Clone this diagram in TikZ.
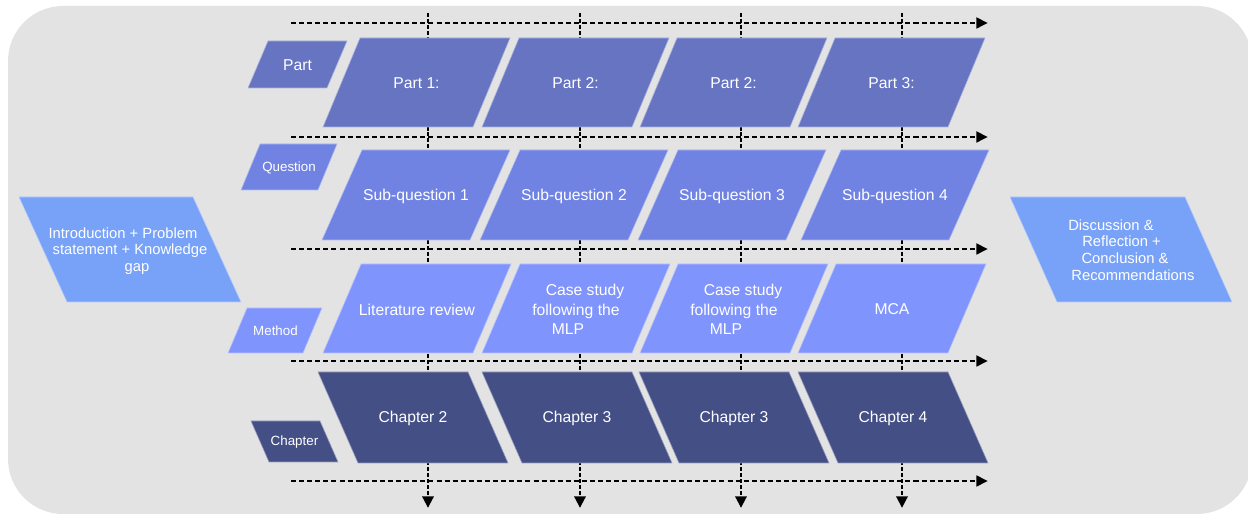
\documentclass[tikz,border=0pt]{standalone}
\usepackage{fontspec}
\setmainfont{Liberation Sans}
\usetikzlibrary{arrows.meta}
\definecolor{partblue}{HTML}{6674C2}
\definecolor{questblue}{HTML}{7083E2}
\definecolor{methblue}{HTML}{8094FE}
\definecolor{chapblue}{HTML}{444F86}
\definecolor{sideblue}{HTML}{78A2F8}
\definecolor{panelgray}{HTML}{E3E3E3}

\begin{document}
\begin{tikzpicture}[x=0.03cm, y=-0.03cm,
        flow/.style={line width=2.5pt, dash pattern=on 4.3pt off 2.6pt, -{Triangle[length=10pt,width=9pt]}},
        drop/.style={line width=2.5pt, dash pattern=on 3.4pt off 1.7pt, -{Triangle[length=10pt,width=9.5pt]}},
        rim/.style={fill=#1, draw=#1!55!white, line width=0.5pt},
        txt/.style={text=white, font=\fontsize{13.4}{16.6}\selectfont, align=center, inner sep=0pt},
        tag/.style={text=white, font=\fontsize{11.4}{13}\selectfont, inner sep=0pt},
        side/.style={text=white, font=\fontsize{12.6}{14.2}\selectfont, align=center, inner sep=0pt}]
        \useasboundingbox (0,0) rectangle (1248,514);
        \fill[panelgray, rounded corners=47pt] (8,6) rectangle (1252,514);

        \foreach \y [count=\i] in {23,137,249,361,481} {
                \coordinate (w\i) at (291,\y);
                \coordinate (e\i) at (988,\y);
                \draw[flow] (w\i) -- (e\i);
        }
        \foreach \x [count=\i] in {428,580,741,902} {
                \coordinate (t\i) at (\x,13);
                \coordinate (b\i) at (\x,508);
                \draw[drop] (t\i) -- (b\i);
        }

        \foreach \x/\t [count=\i] in {323/Part 1:, 482/Part 2:, 640/Part 2:, 798/Part 3:} {
                \path[rim=partblue] (\x,127) -- ++(150,0) -- ++(37,-89) -- ++(-150,0) -- cycle;
                \node[txt] (part\i) at (\x+93.5,83.5) {\t};
        }
        \foreach \x/\t [count=\i] in {322/Sub-question 1, 480/Sub-question 2, 638/Sub-question 3, 801/Sub-question 4} {
                \path[rim=questblue] (\x,240) -- ++(148,0) -- ++(40,-90) -- ++(-148,0) -- cycle;
                \node[txt] (subq\i) at (\x+94,196.5) {\t};
        }
        \foreach \x/\t [count=\i] in {323/Literature review,
                482/{\hspace*{15.4pt}Case study\\following the\\MLP\hspace*{13.7pt}},
                640/{\hspace*{15.4pt}Case study\\following the\\MLP\hspace*{13.7pt}},
                798/MCA} {
                \path[rim=methblue] (\x,353) -- ++(150,0) -- ++(38,-89) -- ++(-150,0) -- cycle;
                \node[txt] (meth\i) at (\x+94,309.5) {\t};
        }
        \foreach \x/\t [count=\i] in {318/Chapter 2, 482/Chapter 3, 639/Chapter 3, 798/Chapter 4} {
                \path[rim=chapblue] (\x,372) -- ++(150,0) -- ++(40,91) -- ++(-150,0) -- cycle;
                \node[txt] (chap\i) at (\x+95,418.5) {\t};
        }

        \path[rim=partblue] (248,88) -- ++(79,0) -- ++(20,-47) -- ++(-79,0) -- cycle;
        \node[txt] (tagpart) at (297.5,65.5) {Part};
        \path[rim=questblue] (241,190) -- ++(77,0) -- ++(19,-46) -- ++(-77,0) -- cycle;
        \node[tag] (tagquest) at (289,167.5) {Question};
        \path[rim=methblue] (228,353) -- ++(75,0) -- ++(19,-45) -- ++(-75,0) -- cycle;
        \node[tag] (tagmeth) at (275.5,330.5) {Method};
        \path[rim=chapblue] (251,421) -- ++(69,0) -- ++(18,41) -- ++(-69,0) -- cycle;
        \node[tag] (tagchap) at (294.5,442) {Chapter};

        \path[rim=sideblue] (19,197) -- ++(174,0) -- ++(48,105) -- ++(-174,0) -- cycle;
        \node[side] (intro) at (130,251) {Introduction + Problem\hspace*{12pt}\\statement + Knowledge\\\hspace*{12pt}gap};
        \path[rim=sideblue] (1010,197) -- ++(175,0) -- ++(47,105) -- ++(-175,0) -- cycle;
        \node[side] (disc) at (1121.5,250) {Discussion \&\hspace*{18pt}\\Reflection +\hspace*{7.7pt}\\\hspace*{6pt}Conclusion \&\\\hspace*{19.6pt}Recommendations};
    \end{tikzpicture}
\end{document}
